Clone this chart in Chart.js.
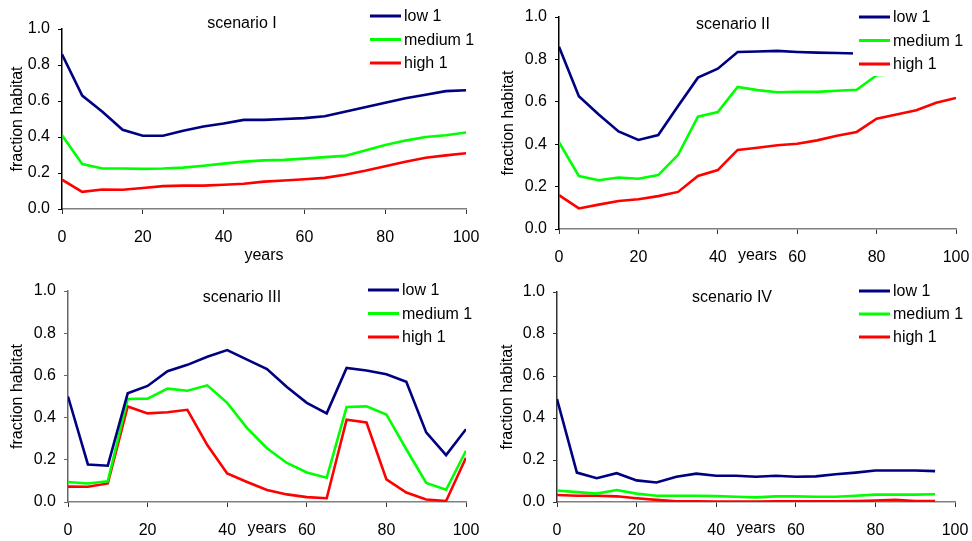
<!DOCTYPE html>
<html>
<head>
<meta charset="utf-8">
<script src="https://cdn.jsdelivr.net/npm/chart.js@4.4.1/dist/chart.umd.min.js"></script>
<style>
  html, body { margin: 0; padding: 0; background: #fff; }
  #wrap { position: relative; width: 972px; height: 541px; }
  #wrap canvas { position: absolute; }
</style>
</head>
<body>
<div id="wrap">
  <canvas id="c1" width="486" height="270" style="left:0;top:0"></canvas>
  <canvas id="c2" width="486" height="270" style="left:486px;top:0"></canvas>
  <canvas id="c3" width="486" height="271" style="left:0;top:270px"></canvas>
  <canvas id="c4" width="486" height="271" style="left:486px;top:270px"></canvas>
</div>
<script>
// years 0..100 every 5
const years = [0, 5, 10, 15, 20, 25, 30, 35, 40, 45, 50, 55, 60, 65, 70, 75, 80, 85, 90, 95, 100];
const yTicks = [0, 0.2, 0.4, 0.6, 0.8, 1.0];
const seriesNames = ['low 1', 'medium 1', 'high 1'];
const seriesColors = ['#000080', '#00ff00', '#ff0000'];

// scenario I
const s1Low  = [0.86, 0.63, 0.54, 0.44, 0.407, 0.407, 0.435, 0.458, 0.475, 0.495, 0.495, 0.50, 0.505, 0.515, 0.54, 0.565, 0.59, 0.615, 0.635, 0.655, 0.66];
const s1Med  = [0.41, 0.25, 0.225, 0.225, 0.223, 0.225, 0.23, 0.24, 0.252, 0.263, 0.27, 0.273, 0.28, 0.288, 0.295, 0.325, 0.355, 0.38, 0.40, 0.41, 0.425];
const s1High = [0.163, 0.095, 0.108, 0.107, 0.117, 0.127, 0.13, 0.13, 0.135, 0.14, 0.152, 0.158, 0.165, 0.173, 0.19, 0.212, 0.237, 0.262, 0.285, 0.298, 0.31];

// scenario II (last part of low/medium sits under the legend)
const s2Low  = [0.86, 0.626, 0.54, 0.46, 0.42, 0.443, 0.58, 0.714, 0.756, 0.835, 0.837, 0.84, 0.835, 0.832, 0.83, 0.828, 0.83, 0.83, 0.83, 0.83, 0.83];
const s2Med  = [0.41, 0.25, 0.23, 0.243, 0.237, 0.254, 0.35, 0.53, 0.552, 0.67, 0.655, 0.645, 0.647, 0.647, 0.652, 0.657, 0.725, 0.73, 0.73, 0.73, 0.73];
const s2High = [0.16, 0.097, 0.115, 0.132, 0.14, 0.155, 0.175, 0.25, 0.278, 0.373, 0.383, 0.395, 0.402, 0.418, 0.44, 0.458, 0.52, 0.54, 0.56, 0.595, 0.618];

// scenario III
const s3Low  = [0.50, 0.178, 0.172, 0.515, 0.55, 0.62, 0.65, 0.688, 0.72, 0.675, 0.63, 0.545, 0.47, 0.42, 0.635, 0.623, 0.605, 0.57, 0.33, 0.222, 0.345];
const s3Med  = [0.095, 0.088, 0.098, 0.488, 0.49, 0.537, 0.527, 0.553, 0.47, 0.35, 0.255, 0.185, 0.14, 0.115, 0.45, 0.453, 0.415, 0.25, 0.09, 0.058, 0.243];
const s3High = [0.073, 0.072, 0.088, 0.453, 0.42, 0.425, 0.437, 0.27, 0.135, 0.095, 0.057, 0.036, 0.023, 0.018, 0.39, 0.377, 0.107, 0.045, 0.012, 0.005, 0.21];

// scenario IV (ends at year 95)
const s4Low  = [0.49, 0.14, 0.113, 0.137, 0.103, 0.093, 0.12, 0.135, 0.125, 0.125, 0.12, 0.125, 0.12, 0.122, 0.132, 0.14, 0.15, 0.15, 0.15, 0.147];
const s4Med  = [0.055, 0.047, 0.04, 0.057, 0.04, 0.03, 0.03, 0.03, 0.028, 0.025, 0.022, 0.027, 0.027, 0.025, 0.025, 0.03, 0.035, 0.035, 0.035, 0.037];
const s4High = [0.033, 0.03, 0.03, 0.027, 0.018, 0.01, 0.003, 0.003, 0.002, 0.002, 0.002, 0.003, 0.003, 0.003, 0.003, 0.004, 0.007, 0.01, 0.004, 0.004];

const FONT = "'Liberation Sans', Arial, sans-serif";
const FS = 16;

// title, legend (white box on top of lines) and the in-line "years" label
const decoPlugin = {
  id: 'deco',
  afterDatasetsDraw(chart, args, o) {
    const ctx = chart.ctx;
    ctx.save();
    ctx.fillStyle = '#fff';
    ctx.fillRect(o.legX - 6, 0, chart.width - o.legX + 6, o.legY + 2 * o.legGap + 12);
    ctx.font = FS + 'px ' + FONT;
    ctx.textBaseline = 'middle';
    chart.data.datasets.forEach((ds, i) => {
      const y = o.legY + i * o.legGap;
      ctx.strokeStyle = ds.borderColor;
      ctx.lineWidth = 3;
      ctx.beginPath();
      ctx.moveTo(o.legX, y);
      ctx.lineTo(o.legX + o.legLen, y);
      ctx.stroke();
      ctx.fillStyle = '#000';
      ctx.textAlign = 'left';
      ctx.fillText(ds.label, o.legX + o.legLen + 3, y + 1);
    });
    ctx.textAlign = 'center';
    ctx.fillStyle = '#000';
    ctx.fillText(o.title, o.titleX, o.titleY);
    if (o.inlineYears) {
      const xs = chart.scales.x;
      ctx.textBaseline = 'top';
      ctx.fillText('years', xs.getPixelForValue(50), xs.top + 5 + 14);
    }
    ctx.restore();
  }
};

function makeChart(id, title, lo, me, hi, L) {
  const sets = [lo, me, hi].map((arr, i) => ({
    label: seriesNames[i],
    data: arr.map((v, k) => ({ x: years[k], y: v })),
    borderColor: seriesColors[i],
    borderWidth: 2.6,
    pointRadius: 0,
    tension: 0,
    fill: false
  }));
  return new Chart(document.getElementById(id), {
    type: 'line',
    data: { datasets: sets },
    plugins: [decoPlugin],
    options: {
      responsive: false,
      animation: false,
      layout: { padding: { top: L.top, right: L.right, left: 0, bottom: 0 } },
      plugins: {
        legend: { display: false },
        tooltip: { enabled: false },
        deco: {
          title: title, titleX: L.titleX, titleY: L.titleY,
          legX: L.legX, legY: L.legY, legGap: L.legGap, legLen: 31,
          inlineYears: L.inlineYears
        }
      },
      scales: {
        x: {
          type: 'linear', min: 0, max: 100,
          afterFit: s => { s.height = L.xH; s.paddingLeft = 0; s.paddingRight = 0; },
          border: { display: true, color: '#808080', width: 1.5 },
          grid: { drawOnChartArea: false, drawTicks: true, tickLength: 5, color: '#333' },
          ticks: { stepSize: 20, color: '#000', padding: 14, maxRotation: 0, font: { family: FONT, size: FS } },
          title: { display: !L.inlineYears, text: 'years', color: '#000', padding: { top: 0, bottom: 5 }, font: { family: FONT, size: FS } }
        },
        y: {
          min: 0, max: 1,
          afterFit: s => { s.width = L.yW; s.paddingTop = 0; s.paddingBottom = 0; },
          afterBuildTicks: s => { s.ticks = yTicks.map(v => ({ value: v })); },
          border: { display: true, color: L.yAxisColor, width: 1.5 },
          grid: { drawOnChartArea: false, drawTicks: true, tickLength: 4, color: L.yAxisColor },
          ticks: { color: '#000', padding: 8, font: { family: FONT, size: FS }, callback: v => v.toFixed(1) },
          title: { display: true, text: 'fraction habitat', color: '#000', padding: { top: L.yTitlePad }, font: { family: FONT, size: FS } }
        }
      }
    }
  });
}

makeChart('c1', 'scenario I', s1Low, s1Med, s1High,
  { top: 29, right: 20, xH: 61, yW: 62, yTitlePad: 8, yAxisColor: '#000', titleX: 242, titleY: 24, legX: 370, legY: 16, legGap: 23.5, inlineYears: false });
makeChart('c2', 'scenario II', s2Low, s2Med, s2High,
  { top: 17, right: 16, xH: 41, yW: 73, yTitlePad: 13, yAxisColor: '#000', titleX: 247, titleY: 25, legX: 373, legY: 17, legGap: 23.5, inlineYears: true });
makeChart('c3', 'scenario III', s3Low, s3Med, s3High,
  { top: 21, right: 20, xH: 39, yW: 68, yTitlePad: 8, yAxisColor: '#666', titleX: 242, titleY: 28, legX: 368, legY: 20, legGap: 23.5, inlineYears: true });
makeChart('c4', 'scenario IV', s4Low, s4Med, s4High,
  { top: 22, right: 17, xH: 39, yW: 71, yTitlePad: 12, yAxisColor: '#333', titleX: 246, titleY: 28, legX: 373, legY: 21, legGap: 23, inlineYears: true });
</script>
</body>
</html>
